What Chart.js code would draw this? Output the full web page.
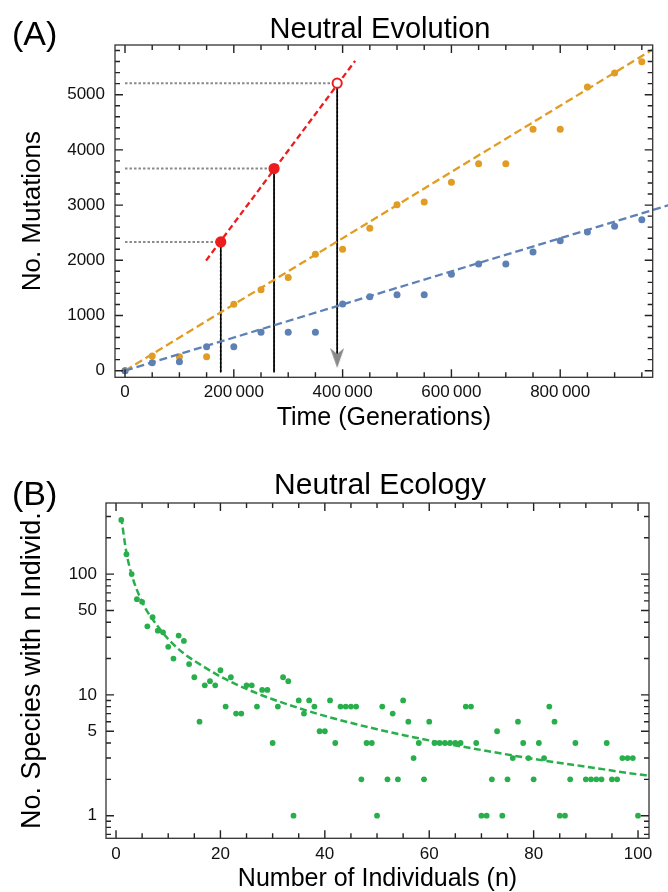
<!DOCTYPE html>
<html>
<head>
<meta charset="utf-8">
<script src="https://cdn.jsdelivr.net/npm/chart.js@4.4.1/dist/chart.umd.min.js"></script>
<style>
  body { margin: 0; background: #fff; }
  #wrap { position: relative; width: 668px; height: 892px; }
  canvas { position: absolute; left: 0; }
  #chartA { top: 0; }
  #chartB { top: 440px; }
</style>
</head>
<body>
<div id="wrap">
  <canvas id="chartA" width="668" height="440"></canvas>
  <canvas id="chartB" width="668" height="452"></canvas>
</div>
<script>
// ---- (A) neutral evolution ----
const generations = [0, 50000, 100000, 150000, 200000, 250000, 300000, 350000, 400000, 450000,
  500000, 550000, 600000, 650000, 700000, 750000, 800000, 850000, 900000, 950000];
const mutationsBlue = [0, 145, 163, 435, 435, 695, 695, 695, 1208, 1341,
  1377, 1377, 1746, 1933, 1933, 2150, 2355, 2513, 2616, 2736];
const mutationsOrange = [0, 266, 254, 254, 1202, 1468, 1686, 2109, 2199, 2580,
  3007, 3056, 3413, 3750, 3750, 4373, 4373, 5139, 5393, 5598];

// dashed fits (end points)
const fitBlueX = [0, 1000000];
const fitBlueY = [0, 3000];
const fitOrangeX = [0, 970000];
const fitOrangeY = [0, 5820];
const fitRedX = [149000, 423000];
const fitRedY = [1994, 5613];

// marked points on the red line
const markX = [176000, 274000, 390000];
const markY = [2332, 3662, 5208];
const arrowY = 230;
const dropFloor = -30;

const xTicksA = [0, 200000, 400000, 600000, 800000];
const yTicksA = [0, 1000, 2000, 3000, 4000, 5000];
const xMinorA = [50000, 100000, 150000, 250000, 300000, 350000, 450000, 500000, 550000,
  650000, 700000, 750000, 850000, 900000, 950000];
const yMinorA = [200, 400, 600, 800, 1200, 1400, 1600, 1800, 2200, 2400, 2600, 2800,
  3200, 3400, 3600, 3800, 4200, 4400, 4600, 4800, 5200, 5400, 5600, 5800];

// ---- (B) neutral ecology ----
const individuals = [
  1, 2, 3, 4, 5, 6, 7, 8, 9, 10, 11, 12, 13, 14, 15, 16, 17, 18, 19, 20,
  21, 22, 23, 24, 25, 26, 27, 28, 29, 30, 31, 32, 33, 34, 35, 36, 37, 38, 39, 40,
  41, 42, 43, 44, 45, 46, 47, 48, 49, 50, 51, 52, 53, 54, 55, 56, 57, 58, 59, 60,
  61, 62, 63, 64, 65, 66, 67, 68, 69, 70, 71, 72, 73, 74, 75, 76, 77, 78, 79, 80,
  81, 82, 83, 84, 85, 86, 87, 88, 89, 90, 91, 92, 93, 94, 95, 96, 97, 98, 99, 100];
const species = [
  281, 146, 100, 62, 59, 37, 44, 34, 33, 25, 20, 31, 28, 18, 14, 6, 12, 13, 12, 16,
  8, 14, 7, 7, 12, 12, 8, 11, 11, 4, 8, 14, 13, 1, 9, 7, 9, 8, 5, 5,
  9, 4, 8, 8, 8, 8, 2, 4, 4, 1, 8, 2, 7, 2, 9, 6, 3, 4, 2, 6,
  4, 4, 4, 4, 4, 4, 8, 8, 4, 1, 1, 2, 5, 1, 2, 3, 6, 4, 3, 2,
  4, 3, 8, 6, 1, 1, 2, 4, null, 2, 2, 2, 2, 4, 2, 2, 3, 3, 3, 1];

// dashed fit curve
const curveN = [1, 2, 3, 4, 5, 6, 8, 10, 13, 16, 20, 25, 30, 40, 50, 60, 70, 80, 90, 100, 102.1];
const curveS = [295, 150, 99, 74, 59, 49, 37, 29, 22, 18, 14.2, 11.2, 9.2, 6.7, 5.2, 4.2, 3.5, 2.95, 2.55, 2.2, 2.15];

const xTicksB = [0, 20, 40, 60, 80, 100];
const yTicksB = [1, 5, 10, 50, 100];
const xMinorB = [5, 10, 15, 25, 30, 35, 45, 50, 55, 65, 70, 75, 85, 90, 95];
const yMinorB = [0.7, 0.8, 0.9, 2, 3, 4, 6, 7, 8, 9, 20, 30, 40, 60, 70, 80, 90, 200, 300];

const FONT = '"Liberation Sans", Arial, sans-serif';
const BLUE = "#5E81B5";
const ORANGE = "#E19C24";
const RED = "#EE1C1C";
const GREEN = "#28AF4B";
const GREY = "#8a8a8a";

// frame with ticks drawn inside it, on all four sides
function frameTicks(spec) {
  return {
    id: "frameTicks",
    afterDraw(chart) {
      const ctx = chart.ctx;
      const a = chart.chartArea;
      const sx = chart.scales.x;
      const sy = chart.scales.y;
      ctx.save();
      ctx.setLineDash([]);
      ctx.strokeStyle = "#222";
      ctx.lineWidth = 1.4;
      ctx.beginPath();
      spec.x.forEach((set) => {
        set.values.forEach((v) => {
          const px = sx.getPixelForValue(v);
          ctx.moveTo(px, a.bottom);
          ctx.lineTo(px, a.bottom - set.len);
          ctx.moveTo(px, a.top);
          ctx.lineTo(px, a.top + set.len);
        });
      });
      spec.y.forEach((set) => {
        set.values.forEach((v) => {
          const py = sy.getPixelForValue(v);
          ctx.moveTo(a.left, py);
          ctx.lineTo(a.left + set.len, py);
          ctx.moveTo(a.right, py);
          ctx.lineTo(a.right - set.len, py);
        });
      });
      ctx.stroke();
      ctx.strokeStyle = "#333";
      ctx.lineWidth = 1.3;
      ctx.strokeRect(a.left, a.top, a.right - a.left, a.bottom - a.top);
      ctx.restore();
    },
  };
}

// panel letter and title
function panelText(t) {
  return {
    id: "panelText",
    afterDraw(chart) {
      const ctx = chart.ctx;
      ctx.save();
      ctx.fillStyle = "#000";
      ctx.textBaseline = "alphabetic";
      ctx.textAlign = "left";
      ctx.font = "34px " + FONT;
      ctx.fillText(t.label, 12, t.labelY);
      ctx.textAlign = "center";
      ctx.font = t.titleSize + "px " + FONT;
      ctx.fillText(t.title, t.titleX, t.titleY);
      ctx.restore();
    },
  };
}

function arrowHead() {
  const c = document.createElement("canvas");
  c.width = 14;
  c.height = 20;
  const g = c.getContext("2d");
  g.fillStyle = GREY;
  g.beginPath();
  g.moveTo(7, 20);
  g.lineTo(0, 0);
  g.lineTo(7, 6);
  g.lineTo(14, 0);
  g.closePath();
  g.fill();
  return c;
}

function pairs(xs, ys) {
  return xs.map((x, i) => ({ x: x, y: ys[i] }));
}

function segment(x0, y0, x1, y1, style) {
  return Object.assign(
    {
      data: [{ x: x0, y: y0 }, { x: x1, y: y1 }],
      showLine: true,
      pointRadius: 0,
      fill: false,
    },
    style
  );
}

function formatGen(v) {
  if (v === 0) return "0";
  return v / 1000 + "\u2009000";
}

// ---------- chart A ----------
const datasetsA = [];

markX.forEach((x, i) => {
  // grey dotted guide to the y axis
  datasetsA.push(segment(0, markY[i], x, markY[i], {
    borderColor: GREY, borderWidth: 2, borderDash: [2.5, 2], order: 10,
  }));
  // drop line down to the time axis
  const bottom = i === markX.length - 1 ? arrowY : dropFloor;
  datasetsA.push(segment(x, markY[i], x, bottom, {
    borderColor: GREY, borderWidth: 2, borderDash: [2, 2], order: 9,
  }));
  datasetsA.push(segment(x, markY[i], x, bottom, {
    borderColor: "#000", borderWidth: 1, order: 8,
  }));
});

datasetsA.push({
  data: pairs(generations, mutationsBlue),
  backgroundColor: BLUE, borderWidth: 0, pointRadius: 3.5, order: 7,
});
datasetsA.push({
  data: pairs(generations, mutationsOrange),
  backgroundColor: ORANGE, borderWidth: 0, pointRadius: 3.5, order: 7,
});
datasetsA.push(Object.assign(segment(fitBlueX[0], fitBlueY[0], fitBlueX[1], fitBlueY[1], {
  borderColor: BLUE, borderWidth: 2.3, borderDash: [8, 4], order: 6,
}), { clip: false }));
datasetsA.push(segment(fitOrangeX[0], fitOrangeY[0], fitOrangeX[1], fitOrangeY[1], {
  borderColor: ORANGE, borderWidth: 2.3, borderDash: [8, 4], order: 6,
}));
datasetsA.push(segment(fitRedX[0], fitRedY[0], fitRedX[1], fitRedY[1], {
  borderColor: RED, borderWidth: 2.3, borderDash: [6, 3.5], order: 5,
}));
datasetsA.push({
  data: pairs(markX, markY),
  pointRadius: 4.6,
  backgroundColor: [RED, RED, "#fff"],
  borderColor: RED,
  borderWidth: 2,
  order: 2,
});
datasetsA.push({
  data: [{ x: markX[2], y: arrowY }],
  pointStyle: arrowHead(),
  pointRadius: 10,
  order: 1,
});

const tickFont = { family: FONT, size: 17 };

new Chart(document.getElementById("chartA"), {
  type: "scatter",
  data: { datasets: datasetsA },
  plugins: [
    frameTicks({
      x: [{ values: xTicksA, len: 8 }, { values: xMinorA, len: 5 }],
      y: [{ values: yTicksA, len: 8 }, { values: yMinorA, len: 5 }],
    }),
    panelText({ label: "(A)", labelY: 45, title: "Neutral Evolution", titleX: 380, titleY: 38, titleSize: 29 }),
  ],
  options: {
    responsive: false,
    animation: false,
    events: [],
    layout: { padding: { top: 45, right: 15.3, left: 0, bottom: 0 } },
    plugins: {
      legend: { display: false },
      tooltip: { enabled: false },
    },
    scales: {
      x: {
        type: "linear",
        min: -18400,
        max: 970000,
        grid: { display: false, drawTicks: false },
        border: { display: false },
        afterFit: (s) => { s.height = 62.7; },
        afterBuildTicks: (s) => { s.ticks = xTicksA.map((v) => ({ value: v })); },
        ticks: { padding: 5, color: "#111", font: tickFont, maxRotation: 0, autoSkip: false, callback: (v) => formatGen(v) },
        title: { display: true, text: "Time (Generations)", color: "#000", font: { family: FONT, size: 25, lineHeight: 1 }, padding: { top: 0, bottom: 9.5 } },
      },
      y: {
        type: "linear",
        min: -120,
        max: 5900,
        grid: { display: false, drawTicks: false },
        border: { display: false },
        afterFit: (s) => { s.width = 115; },
        afterBuildTicks: (s) => { s.ticks = yTicksA.map((v) => ({ value: v })); },
        ticks: { padding: 10, color: "#111", font: tickFont, autoSkip: false, callback: (v) => String(v) },
        title: { display: true, text: "No. Mutations", color: "#000", font: { family: FONT, size: 26, lineHeight: 1 }, padding: { top: 20, bottom: 0 } },
      },
    },
  },
});

// ---------- chart B ----------
new Chart(document.getElementById("chartB"), {
  type: "scatter",
  data: {
    datasets: [
      {
        data: pairs(curveN, curveS),
        showLine: true,
        pointRadius: 0,
        borderColor: GREEN,
        borderWidth: 2.5,
        borderDash: [7, 3.5],
        cubicInterpolationMode: "monotone",
        order: 1,
      },
      {
        data: pairs(individuals, species),
        backgroundColor: GREEN,
        borderWidth: 0,
        pointRadius: 2.9,
        order: 2,
      },
    ],
  },
  plugins: [
    frameTicks({
      x: [{ values: xTicksB, len: 8 }, { values: xMinorB, len: 5 }],
      y: [{ values: yTicksB, len: 8 }, { values: yMinorB, len: 5 }],
    }),
    panelText({ label: "(B)", labelY: 65, title: "Neutral Ecology", titleX: 380, titleY: 54, titleSize: 30 }),
  ],
  options: {
    responsive: false,
    animation: false,
    events: [],
    layout: { padding: { top: 63, right: 19, left: 0, bottom: 0 } },
    plugins: {
      legend: { display: false },
      tooltip: { enabled: false },
    },
    scales: {
      x: {
        type: "linear",
        min: -1.92,
        max: 102.1,
        grid: { display: false, drawTicks: false },
        border: { display: false },
        afterFit: (s) => { s.height = 53.7; },
        afterBuildTicks: (s) => { s.ticks = xTicksB.map((v) => ({ value: v })); },
        ticks: { padding: 6, color: "#111", font: tickFont, maxRotation: 0, autoSkip: false, callback: (v) => String(v) },
        title: { display: true, text: "Number of Individuals (n)", color: "#000", font: { family: FONT, size: 25, lineHeight: 1 }, padding: { top: 0, bottom: 0 } },
      },
      y: {
        type: "logarithmic",
        min: 0.65,
        max: 388,
        grid: { display: false, drawTicks: false },
        border: { display: false },
        afterFit: (s) => { s.width = 106; },
        afterBuildTicks: (s) => { s.ticks = yTicksB.map((v) => ({ value: v })); },
        ticks: { padding: 9, color: "#111", font: tickFont, autoSkip: false, callback: (v) => String(v) },
        title: { display: true, text: "No. Species with n Individ.", color: "#000", font: { family: FONT, size: 27, lineHeight: 1 }, padding: { top: 19, bottom: 0 } },
      },
    },
  },
});
</script>
</body>
</html>
